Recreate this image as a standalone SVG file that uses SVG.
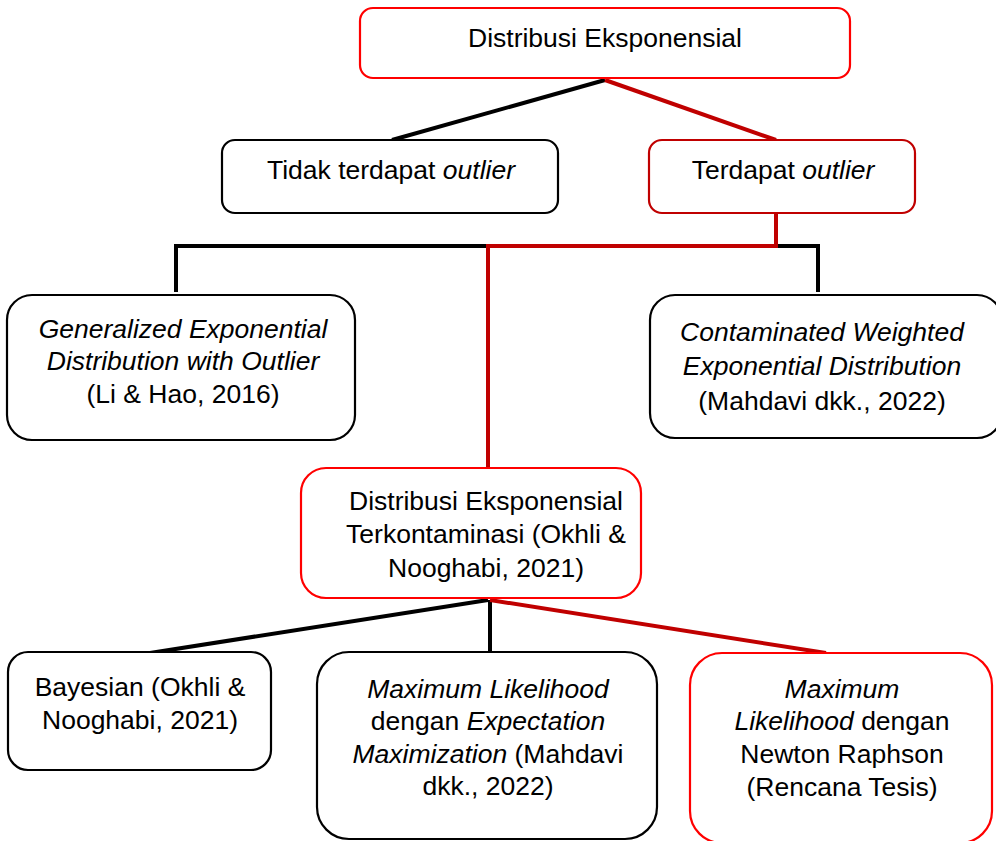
<svg xmlns="http://www.w3.org/2000/svg" width="996" height="841" viewBox="0 0 996 841">
<style>
text{font-family:"Liberation Sans",Arial,sans-serif;font-size:26.5px;fill:#000;text-anchor:middle}
.i{font-style:italic}
.bk{fill:#fff;stroke:#000;stroke-width:2.2}
.rd{fill:#fff;stroke:#ff0000;stroke-width:2.2}
.dr{fill:#fff;stroke:#c00000;stroke-width:2.2}
.cb{stroke:#000;stroke-width:4;fill:none}
.cr{stroke:#c00000;stroke-width:4;fill:none}
</style>
<rect width="996" height="841" fill="#fff"/>
<g id="connectors">
<line class="cb" x1="605" y1="80" x2="392" y2="140"/>
<polyline class="cb" points="176,292 176,246 818,246 818,292"/>
<line class="cb" x1="488" y1="600" x2="150" y2="653"/>
<line class="cb" x1="490" y1="600" x2="490" y2="652"/>
<line class="cr" x1="605" y1="80" x2="776" y2="140"/>
<polyline class="cr" points="776,213 776,246 488,246 488,468"/>
<line class="cr" x1="490" y1="600" x2="826" y2="653"/>
</g>
<g id="n-root">
<rect class="rd" x="360" y="8" width="490" height="70" rx="13"/>
<text x="605" y="47">Distribusi Eksponensial</text>
</g>
<g id="n-tidak">
<rect class="bk" x="222" y="140" width="336" height="73" rx="13"/>
<text x="391" y="179">Tidak terdapat <tspan class="i">outlier</tspan></text>
</g>
<g id="n-terdapat">
<rect class="dr" x="649" y="140" width="266" height="73" rx="13"/>
<text x="783" y="179">Terdapat <tspan class="i">outlier</tspan></text>
</g>
<g id="n-ged">
<rect class="bk" x="7" y="295" width="348" height="145" rx="25"/>
<text class="i" x="183" y="338">Generalized Exponential</text>
<text class="i" x="183" y="370">Distribution with Outlier</text>
<text x="183" y="403">(Li &amp; Hao, 2016)</text>
</g>
<g id="n-cwed">
<rect class="bk" x="650" y="295" width="352" height="143" rx="25"/>
<text class="i" x="822" y="341">Contaminated Weighted</text>
<text class="i" x="822" y="375">Exponential Distribution</text>
<text x="822" y="410">(Mahdavi dkk., 2022)</text>
</g>
<g id="n-det">
<rect class="rd" x="301" y="468" width="340" height="130" rx="25"/>
<text x="486" y="510">Distribusi Eksponensial</text>
<text x="486" y="543">Terkontaminasi (Okhli &amp;</text>
<text x="486" y="577">Nooghabi, 2021)</text>
</g>
<g id="n-bayes">
<rect class="bk" x="8" y="652" width="263" height="118" rx="20"/>
<text x="140" y="696">Bayesian (Okhli &amp;</text>
<text x="140" y="729">Nooghabi, 2021)</text>
</g>
<g id="n-mle-em">
<rect class="bk" x="317" y="652" width="340" height="187" rx="32"/>
<text class="i" x="488" y="698">Maximum Likelihood</text>
<text x="488" y="730">dengan <tspan class="i">Expectation</tspan></text>
<text x="488" y="763"><tspan class="i">Maximization</tspan> (Mahdavi</text>
<text x="488" y="795">dkk., 2022)</text>
</g>
<g id="n-mle-nr">
<rect class="rd" x="690" y="653" width="302" height="190" rx="32"/>
<text class="i" x="842" y="698">Maximum</text>
<text x="842" y="730"><tspan class="i">Likelihood</tspan> dengan</text>
<text x="842" y="763">Newton Raphson</text>
<text x="842" y="796">(Rencana Tesis)</text>
</g>
</svg>
